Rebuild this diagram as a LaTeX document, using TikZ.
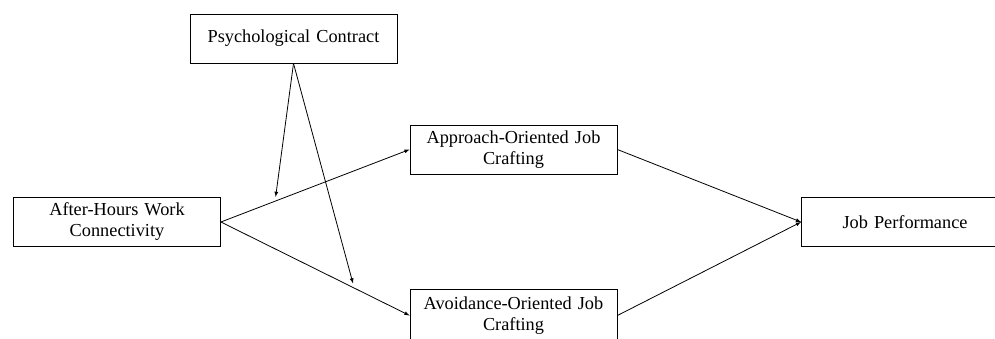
\documentclass[tikz,border=0pt]{standalone}
\usepackage{fontspec}
\setmainfont{Liberation Serif}
\usetikzlibrary{calc,arrows,positioning}
\begin{document}
\begin{tikzpicture}[x=1pt,y=1pt]
    \tikzstyle{construct}=[draw,thick,minimum width=207pt,minimum height=49pt,inner sep=2pt,text width=200pt,align=center,font=\fontsize{18.3}{21}\selectfont]
    \tikzstyle{path arrow}=[-latex,thick]
\useasboundingbox (0,0) rectangle (995,-338);

% Variables
\node[construct] (PC) at (293.5,-38.5) {Psychological Contract};
\node[construct] (AH) at (117,-222) {After-Hours Work\\Connectivity};
\node[construct] (AP) at (513.5,-149.5) {Approach-Oriented Job\\Crafting};
\node[construct,minimum height=53pt] (AV) at (513.5,-315.5) {Avoidance-Oriented Job\\Crafting};
\node[construct] (JP) at (905,-222) {Job Performance};

% Chemins
\draw[path arrow] (AH.east) -- (AP.west);
\draw[path arrow] (AH.east) -- (AV.west);
\draw[path arrow] (AP.east) -- (JP.west);
\draw[path arrow] (AV.east) -- (JP.west);

% Moderation
\coordinate (M-1) at ($(AH.east)!0.29!(AP.west)+(0,4)$);
\coordinate (M-2) at ($(AH.east)!0.70!(AV.west)+(0,4)$);
\draw[path arrow] (PC.south) -- (M-1);
\draw[path arrow] (PC.south) -- (M-2);

\end{tikzpicture}
\end{document}
